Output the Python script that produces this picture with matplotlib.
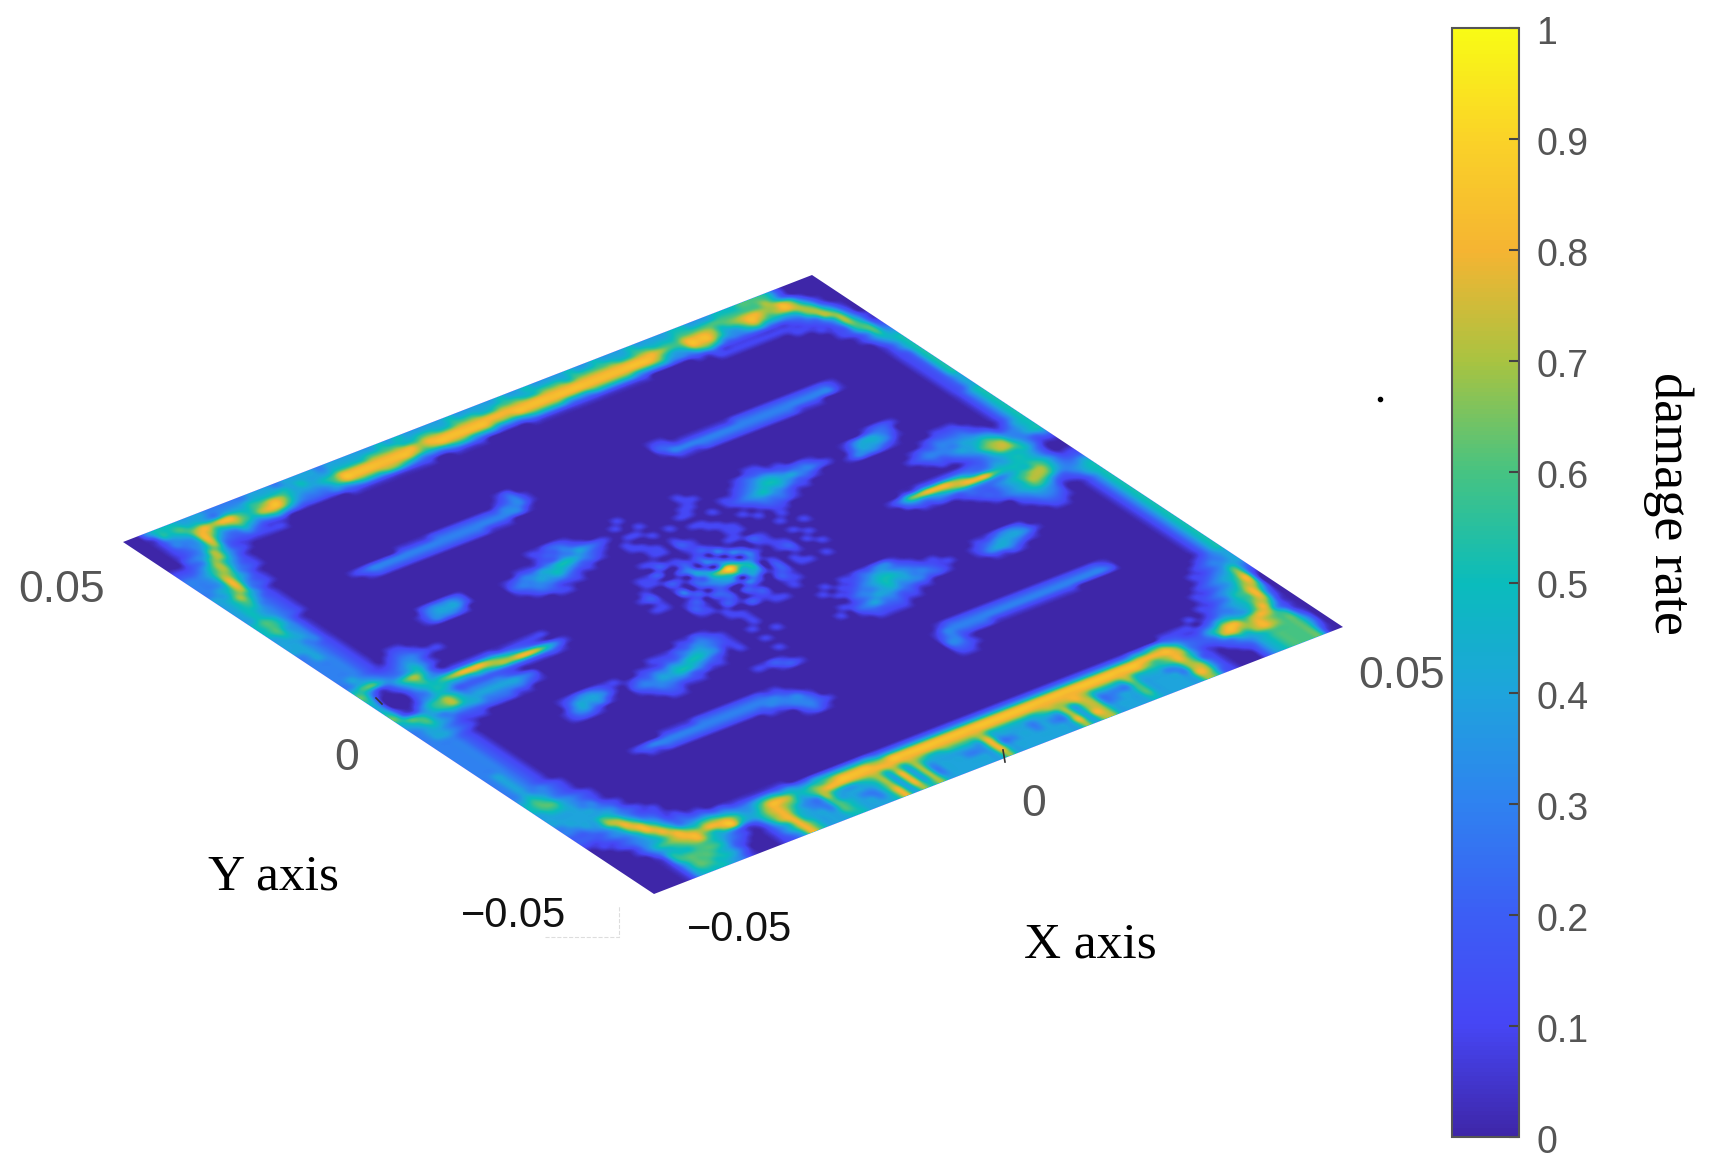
import matplotlib
matplotlib.use('Agg')
import numpy as np
import matplotlib.pyplot as plt
from matplotlib.colors import LinearSegmentedColormap
from matplotlib.transforms import Affine2D, ScaledTranslation

# damage rate, in tenths, one digit per cell.
# first row is the y=+0.06 edge, first column is the x=-0.06 edge
DAMAGE_ROWS = [
    "0035554443 3333444344 4434444445 4544444544 4445445444 4544544454 4445544455 5666520000",
    "0015565543 4445555545 4445555666 6556655666 5566655666 5666665566 5556666666 6667520000",
    "0013457878 8656787544 4568888888 8878888888 8888888888 8888888888 7668887567 8877862000",
    "0013348756 7657886433 3468888888 8767888888 7778888888 8888888887 5458886446 8767874100",
    "0012348533 5434543222 2334555665 4333455444 3334555544 4555554444 3335653334 5444576200",
    "0012357322 3211100000 0011111111 1100111100 0001111111 1111111000 0011211111 1112367410",
    "0023475211 1111000000 0000000000 0000000000 0000000000 0000000000 0000111111 1111237620",
    "1123674210 0000000000 0000000000 0000000000 0000000000 0000000000 0000000000 0011124730",
    "2235753100 0000000000 0000000000 0000000000 0000000000 0000000000 0000000000 0000113741",
    "3346742100 0000000000 0000000000 0000000000 0000000000 0000000000 0000000000 0000012651",
    "3347632100 0000000000 0000000000 0000000000 0000000000 0000000000 0000000000 0000012562",
    "3348531000 0000000000 0000000000 0000000000 0000000000 0000000000 0000000000 0000001363",
    "3458421000 0000000000 0000000000 0000000000 0000000000 0000000000 0000000000 0000001354",
    "4467321000 0000000000 0000000000 0000000000 0000000000 0000000000 0000000000 0000000245",
    "4575310000 0000000000 0000000000 0012000000 0000000000 0000000000 0000000000 0000000135",
    "4564210000 0000000000 0000000000 0123100000 0000000001 1000000000 0000000000 0000000135",
    "4553210000 0000000001 1112222222 2333100000 0000000002 2111111122 2222222221 0000000125",
    "4543210000 0001233333 3333333333 3331000000 0000000001 3333333333 3333333331 0000000125",
    "4543210000 0000122222 2222222211 1000000000 0000000000 1112222222 2222111000 0000000125",
    "5653210000 0000000000 0000000000 0000000000 0000000000 0000000000 0000000000 0000000125",
    "5653100000 0000000000 0000000000 0000000000 0000000000 0000000000 0000000000 0000000125",
    "5643100000 0000000000 0000000000 0000000000 0000000000 0000000000 0000000000 0000000125",
    "4543100000 0000000000 0000000000 0000000000 0000000000 0000000000 0000000000 0000000124",
    "4443100000 0000000000 0000000000 0000000000 0000000000 0000000000 0000000000 0000000124",
    "4433100000 0000000000 0000000011 2210000010 0000010000 0001100000 0000000000 0000000124",
    "4432100000 0000000000 0000000012 2321000100 0000011000 0122211000 0000001221 0000000135",
    "3432100000 0000233320 0000011122 3343210001 0000110000 1234432221 0001344320 0000000135",
    "3432100000 0001344420 0001233445 5432100110 0001100011 2345544332 1002444310 0000000135",
    "3332100000 0001333200 0002334454 3221001001 0100001012 3454432210 0013332100 0000000135",
    "3332100000 0000000000 0001233332 1100001100 0001100001 2333211000 0000000000 0111000135",
    "3332100110 0000000000 0000122111 0000000110 1000110010 1222100000 0000000001 2222100135",
    "3332101221 0000000000 0000001100 0000000110 2100011001 0110000000 0000000122 3333210135",
    "3432112332 1100000000 0000000000 0000011000 1100011000 0100000000 0000001233 3344431245",
    "3443223431 0000000000 0000000000 0000002110 1210110000 1000000000 0000000122 3445653345",
    "5664334531 0000000000 0000000000 0001120021 2031002100 0010000000 0000000011 2346774345",
    "6312467520 0000000000 0000000000 0001100230 3203201100 1000000000 0000000000 1235775323",
    "5101356432 2222211111 1000000000 0010021043 0430310110 0100000000 0011222222 2234555311",
    "4000245567 8887654321 0000000000 0120010225 7964200120 1000000000 1367888764 3344554200",
    "4000235544 4556778875 3100000000 0010030234 5645010010 0100000000 0233456788 8655554200",
    "5101345422 2222222222 1000000000 0110012023 3043020100 0000000000 0011222333 3345565311",
    "6213567533 3332100000 0000000000 0000120220 0320120110 1000000000 0000001222 3456775322",
    "5654567544 4444320000 0000000000 0000210120 2100210000 0000000000 0000000122 3457764334",
    "4564344443 3333210000 0000000000 0000110210 1200110000 0000000000 0000000012 3456532345",
    "3454322222 2211000000 0000000000 0000001002 1100100000 0000000000 0000000000 2344311245",
    "3443211100 0000000000 0000000000 0000001100 0110000000 0000000000 0000000000 1233200135",
    "3443210000 0000000000 0000000001 1210000100 0000001011 2233100000 0000000000 0122100135",
    "3332100000 0000000000 0000011122 3321000100 0000010112 3443210000 0000000000 0011000135",
    "3332100000 0000123321 1001112234 4321001000 0000001123 4554321100 0011233200 0000000135",
    "3332100000 0000244431 0122334455 4311000010 0000000233 4544332110 0123444310 0000000135",
    "3332100000 0001343310 0233445543 2101001000 0000011234 4433322100 0134432100 0000000135",
    "3332100000 0001221000 0123333221 1000000000 0000102343 3221100000 0011210000 0000000135",
    "3332100000 0000000000 0012211100 0000001000 0000001222 2110000000 0000000000 0000000135",
    "3332100000 0000000000 0001100000 0000000000 0000000111 1000000000 0000000000 0000000135",
    "3332100000 0000000000 0000000000 0011210000 0000000000 0000000000 0000000000 0000000135",
    "3432100000 0000000000 0000000000 0000121000 0000000000 0000000000 0000000000 0000000135",
    "3432100000 0000000000 0000000000 0000000000 0000000000 0000000000 0000000000 0000000135",
    "3432100000 0000000000 0000000000 0000000000 0000000000 0000000000 0000000000 0000000135",
    "3432100000 0000000011 1122222222 1100000000 0000000000 1222222222 2222222221 0000000135",
    "3433210000 0000123333 3333333333 3210000000 0000000001 3333333333 3333333332 0000000135",
    "4543210000 0000011222 2222222223 3331000000 0000000002 3222211111 1111100000 0000000135",
    "5653210000 0000000000 0000000011 2332000000 0000000003 3100000000 0000000000 0000000135",
    "5664321000 0000000000 0000000000 0232100000 0000000002 2100000000 0000000000 0000000135",
    "4554321000 0000000000 0000000000 0121000000 0000000001 1000000000 0000000000 0000001234",
    "4444331000 0000000000 0000000000 0000000000 0000000000 0000000000 0000000000 0000012334",
    "4444432100 0000000000 0000000000 0000000000 0000000000 0000000000 0000000000 0000112344",
    "3444443100 0000000000 0000000000 0000000000 0000000000 0000000000 0000000000 0000123463",
    "3344653210 0000000000 0000000000 0000000000 0000000000 0000000000 0000000000 0001234572",
    "2234774211 0000000000 0000000000 0000000000 0000000000 0000000000 0000000000 0011234681",
    "2223586321 0000000000 0000000000 0000000000 0000000000 0000000000 0000000000 0012345770",
    "1123478531 1000000000 0000000000 0000000000 0000000000 0000000000 0000000000 0112356850",
    "0112358742 2110000000 0000000000 0000000000 0000000000 0000000000 0000000001 0123456830",
    "0012346863 3332211111 1100000000 0000000000 0000000000 0000000000 0000011110 1233457720",
    "0001345786 5665433455 4433444444 4333333333 3333333333 3333333333 3445532112 3554468510",
    "0001356788 7888644688 7556678888 7788888888 8888888888 8888888888 8888863224 6886787310",
    "0000245678 6578545787 6457888888 8888888888 8888888888 8888888888 8767873223 7877876510",
    "0000155566 5432125786 4337544567 5757655666 6755555567 7787555575 5556863112 3557876620",
    "0000156666 5321014785 4336444457 4847444444 4844443444 7477333364 4434762101 2345666630",
    "0000146665 4210013585 4436543357 4847344433 4833443433 7477334464 4443773100 1245666630",
    "0000146655 4200013586 4446544358 4847344444 4844444444 8487444464 4444873100 0245666620",
    "0000145554 3100012486 4445544458 4757444444 4744444444 7477444454 4444762100 0245666610",
]
TICK_COLORBAR = [0, 0.1, 0.2, 0.3, 0.4, 0.5, 0.6, 0.7, 0.8, 0.9, 1]
TICK_COLORBAR_LABELS = ['0', '0.1', '0.2', '0.3', '0.4', '0.5', '0.6', '0.7', '0.8', '0.9', '1']
PARULA_STOPS = ['#3e26a8', '#4646f5', '#3c5ef5', '#2f82f0', '#1ea4dc', '#0abcbc',
                '#46c382', '#a8c341', '#f5b432', '#fad228', '#f9fb15']

damage = np.array([[int(c) / 10 for c in row.replace(' ', '')] for row in DAMAGE_ROWS])

W, H = 1709, 1175
fig = plt.figure(figsize=(W / 100, H / 100), dpi=100, facecolor='white')
ax = fig.add_axes([0, 0, 1, 1])

parula = LinearSegmentedColormap.from_list('parula_like', PARULA_STOPS, N=256)

# plate is a flat square seen in perspective, so shear it onto its corners
left, bottom, right = np.array([123, 542]), np.array([654, 894]), np.array([1343, 627])
half = 0.06
ex = (right - bottom) / (2 * half)
ey = (left - bottom) / (2 * half)
origin = bottom + half * ex + half * ey
plate_tf = Affine2D(np.array([[ex[0], ey[0], origin[0]],
                              [ex[1], ey[1], origin[1]],
                              [0, 0, 1]]))

im = ax.imshow(damage, cmap=parula, vmin=0, vmax=1, origin='upper', aspect='auto',
               extent=[-half, half, -half, half], interpolation='catrom',
               interpolation_stage='data')
im.set_transform(plate_tf + ax.transData)
ax.set_xlim(0, W)
ax.set_ylim(H, 0)
ax.axis('off')

# small tick marks left on the plate edges
ax.plot([1003, 1005], [750, 762], color='#333333', lw=1.2)
ax.plot([376, 382], [698, 704], color='#333333', lw=1.2)
ax.plot([1380], [399], marker='o', ms=3, color='black')
# faint box left over next to the -0.05 label
ax.plot([545, 619, 619], [937, 937, 905], color='#dddddd', lw=0.8, ls='--')

tick_font = ['Liberation Sans', 'DejaVu Sans']
serif_font = ['Liberation Serif', 'DejaVu Serif']
ax.text(62, 590, '0.05', fontsize=32, color='#555555', family=tick_font, ha='center', va='center')
ax.text(347, 759, '0', fontsize=32, color='#555555', family=tick_font, ha='center', va='center')
ax.text(1034, 805, '0', fontsize=32, color='#555555', family=tick_font, ha='center', va='center')
ax.text(1402, 677, '0.05', fontsize=32, color='#555555', family=tick_font, ha='center', va='center')
ax.text(514, 916, '\u22120.05', fontsize=30, color='#111111', family=tick_font, ha='center', va='center')
ax.text(740, 930, '\u22120.05', fontsize=30, color='#111111', family=tick_font, ha='center', va='center')
ax.text(274, 877, 'Y axis', fontsize=37, color='black', family=serif_font, ha='center', va='center')
ax.text(1090, 945, 'X axis', fontsize=37, color='black', family=serif_font, ha='center', va='center')

cax = fig.add_axes([1452 / W, 1 - 1137 / H, 67 / W, 1109 / H])
cbar = fig.colorbar(im, cax=cax, ticks=TICK_COLORBAR)
cbar.ax.set_yticklabels(TICK_COLORBAR_LABELS, fontsize=27, color='#555555', family=tick_font)
cbar.ax.tick_params(direction='in', length=7, width=1.5, color='#444444', pad=12.5)
nudge = ScaledTranslation(0, -2 / 100, fig.dpi_scale_trans)
for lab in cbar.ax.get_yticklabels():
    lab.set_transform(lab.get_transform() + nudge)
cbar.outline.set_edgecolor('#555555')
cbar.outline.set_linewidth(1.5)
ax.text(1668, 503, 'damage rate', fontsize=39, color='black', family=serif_font,
        rotation=270, ha='center', va='center')

plt.savefig('out.png', dpi=100)
